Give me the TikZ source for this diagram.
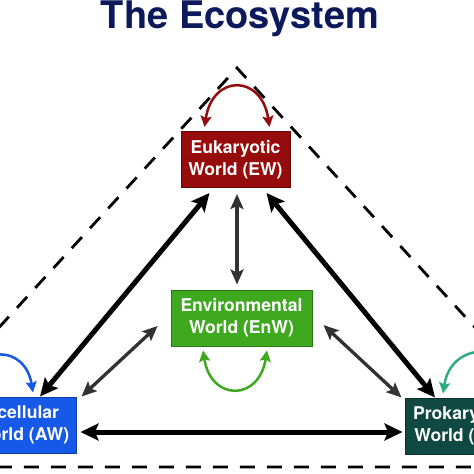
\documentclass[tikz,border=0pt]{standalone}
\usepackage{fontspec}
\setsansfont{TeX Gyre Heros}
\usepackage{tikz}
\usetikzlibrary{arrows.meta}
\definecolor{titleblue}{RGB}{12,26,92}
\definecolor{ewred}{RGB}{150,12,12}
\definecolor{enwgreen}{RGB}{62,168,30}
\definecolor{awblue}{RGB}{22,88,232}
\definecolor{pwteal}{RGB}{16,72,66}
\definecolor{pwloop}{RGB}{46,172,130}
\definecolor{darkgray}{RGB}{50,50,50}

\begin{document}
\begin{tikzpicture}[x=1pt,y=-1pt,
    world/.style={rectangle,draw,line width=1pt,text=white,align=center,inner sep=0pt,minimum height=56pt,font=\sffamily\bfseries\fontsize{17.6}{22}\selectfont},
    loop arrow/.style={line width=2.5pt,{Stealth[length=11pt,width=11pt,inset=2pt]}-{Stealth[length=11pt,width=11pt,inset=2pt]}}]
  \tikzstyle{big arrow}=[line width=5pt,{Stealth[length=18pt,width=17pt,inset=3.5pt]}-{Stealth[length=18pt,width=17pt,inset=3.5pt]}]
  \tikzstyle{thin arrow}=[line width=3.3pt,darkgray,{Stealth[length=15pt,width=13pt,inset=3pt]}-{Stealth[length=15pt,width=13pt,inset=3pt]}]
  \useasboundingbox (0,0) rectangle (474,474);
  \clip (0,0) rectangle (474,474);
  \draw[line width=2.8pt,dash pattern=on 15pt off 12pt] (-129,467) -- (237,68) -- (603,467) -- cycle;
  \node(title)[anchor=base,text=titleblue,font=\sffamily\bfseries\fontsize{38}{40}\selectfont] at (240,28) {The Ecosystem};
  \node(EW)[world,fill=ewred,draw=ewred!70!black,minimum width=109pt] at (235.5,159.5) {Eukaryotic\\World (EW)};
  \node(EnW)[world,fill=enwgreen,draw=enwgreen!70!black,minimum width=141pt] at (241.5,318) {Environmental\\World (EnW)};
  \node(AW)[world,fill=awblue,draw=awblue!70!black,minimum width=108pt] at (22,425) {Acellular\\World (AW)};
  \node(PW)[world,fill=pwteal,draw=pwteal!70!black,minimum width=113pt] at (461.5,426) {Prokaryotic\\World (PW)};
  \draw[big arrow] ([xshift=-26pt,yshift=-5pt]EW.south) -- ([xshift=18pt]AW.north);
  \draw[big arrow] ([xshift=31pt,yshift=-5pt]EW.south) -- ([xshift=-26.5pt]PW.north);
  \draw[big arrow] ([xshift=4pt,yshift=-7pt]AW.east) -- ([xshift=-2pt,yshift=-6pt]PW.west);
  \draw[thin arrow] ([xshift=1.5pt,yshift=-6pt]EW.south) -- ([xshift=-4.5pt,yshift=5pt]EnW.north);
  \draw[thin arrow] ([xshift=5pt]AW.north east) -- ([xshift=-13pt,yshift=-8pt]EnW.west);
  \draw[thin arrow] ([xshift=11pt,yshift=-7pt]EnW.east) -- ([xshift=-3pt]PW.north west);
  \draw[loop arrow,ewred] ([xshift=-31pt,yshift=4pt]EW.north) .. controls +(8,-53) and +(-8,-53) .. ([xshift=34pt,yshift=4pt]EW.north);
  \draw[loop arrow,enwgreen] ([xshift=-38.5pt,yshift=-4pt]EnW.south) .. controls +(8,51) and +(-8,51) .. ([xshift=25.5pt,yshift=-4pt]EnW.south);
  \draw[loop arrow,awblue] ([xshift=-53pt,yshift=4pt]AW.north) .. controls +(8,-48) and +(-8,-48) .. ([xshift=11pt,yshift=4pt]AW.north);
  \draw[loop arrow,pwloop] ([xshift=-18.5pt,yshift=4pt]PW.north) .. controls +(8,-53) and +(-8,-53) .. ([xshift=58.5pt,yshift=4pt]PW.north);
\end{tikzpicture}
\end{document}
